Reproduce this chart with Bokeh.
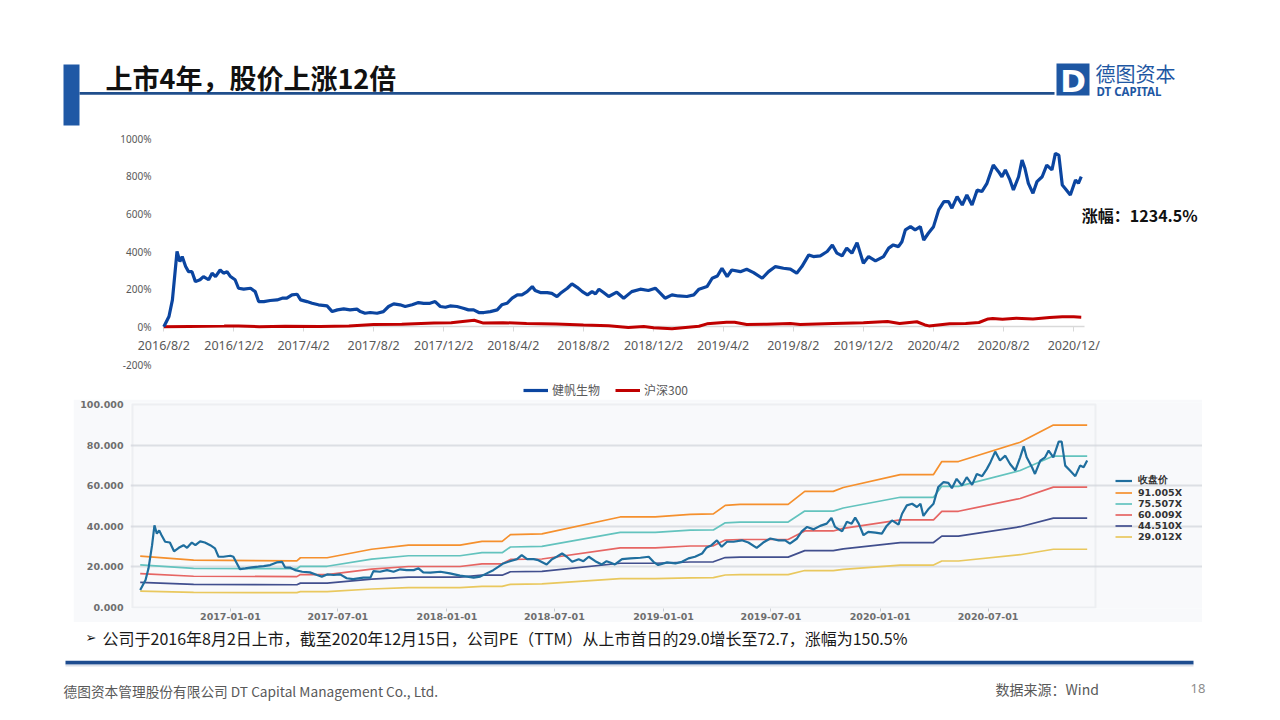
import pandas as pd
from bokeh.plotting import figure
from bokeh.layouts import column, row
from bokeh.models import (Range1d, FixedTicker, CustomJSTickFormatter, PrintfTickFormatter,
                          Legend, LegendItem, Label, Spacer, ColumnDataSource, BoxAnnotation)
from bokeh.embed import file_html
from bokeh.resources import INLINE

# ---------------- texts ----------------
title_text = "上市4年，股价上涨12倍"
logo_cn = "德图资本"
logo_en = "DT CAPITAL"
gain_label = "涨幅：1234.5%"
bullet_text = "公司于2016年8月2日上市，截至2020年12月15日，公司PE（TTM）从上市首日的29.0增长至72.7，涨幅为150.5%"
footer_company = "德图资本管理股份有限公司 DT Capital Management Co., Ltd."
footer_source = "数据来源：Wind"
page_number = "18"

# ---------------- top chart: cumulative return (%) ----------------
series_names = ["健帆生物", "沪深300"]
jf_dates = ["2016-08-02","2016-08-11","2016-08-17","2016-08-25","2016-08-30","2016-09-03","2016-09-09","2016-09-14","2016-09-20","2016-09-26",
            "2016-10-04","2016-10-10","2016-10-19","2016-10-25","2016-10-31","2016-11-08","2016-11-14","2016-11-20","2016-11-26","2016-12-04",
            "2016-12-10","2016-12-19","2016-12-31","2017-01-08","2017-01-14","2017-01-23","2017-02-03","2017-02-15","2017-02-24","2017-03-04",
            "2017-03-13","2017-03-22","2017-03-28","2017-04-08","2017-04-17","2017-04-28","2017-05-13","2017-05-22","2017-05-31","2017-06-11",
            "2017-06-22","2017-07-04","2017-07-10","2017-07-18","2017-07-27","2017-08-08","2017-08-19","2017-08-28","2017-09-06","2017-09-17",
            "2017-09-26","2017-10-08","2017-10-19","2017-10-28","2017-11-08","2017-11-17","2017-11-26","2017-12-05","2017-12-13","2017-12-25",
            "2018-01-05","2018-01-14","2018-01-23","2018-02-01","2018-02-10","2018-02-21","2018-03-05","2018-03-13","2018-03-22","2018-03-31",
            "2018-04-09","2018-04-17","2018-04-26","2018-05-05","2018-05-10","2018-05-19","2018-05-31","2018-06-08","2018-06-17","2018-06-23",
            "2018-07-05","2018-07-13","2018-07-22","2018-07-31","2018-08-09","2018-08-17","2018-08-23","2018-08-29","2018-09-06","2018-09-15",
            "2018-09-29","2018-10-11","2018-10-25","2018-11-09","2018-11-23","2018-12-05","2018-12-14","2018-12-22","2019-01-03","2019-01-14",
            "2019-01-29","2019-02-10","2019-02-19","2019-03-05","2019-03-14","2019-03-23","2019-03-31","2019-04-09","2019-04-17","2019-05-02",
            "2019-05-13","2019-05-25","2019-06-09","2019-06-20","2019-07-02","2019-07-16","2019-07-28","2019-08-08","2019-08-17","2019-08-29",
            "2019-09-06","2019-09-18","2019-09-30","2019-10-09","2019-10-17","2019-10-26","2019-11-03","2019-11-12","2019-11-21","2019-12-02",
            "2019-12-11","2019-12-23","2020-01-06","2020-01-15","2020-01-23","2020-02-01","2020-02-07","2020-02-13","2020-02-22","2020-03-01",
            "2020-03-10","2020-03-16","2020-03-24","2020-04-02","2020-04-11","2020-04-20","2020-04-28","2020-05-04","2020-05-13","2020-05-22",
            "2020-05-30","2020-06-08","2020-06-17","2020-06-25","2020-07-04","2020-07-10","2020-07-15","2020-07-24","2020-07-30","2020-08-05",
            "2020-08-13","2020-08-19","2020-08-28","2020-09-03","2020-09-08","2020-09-14","2020-09-22","2020-09-29","2020-10-08","2020-10-16",
            "2020-10-25","2020-10-31","2020-11-06","2020-11-12","2020-11-17","2020-11-26","2020-12-05","2020-12-10","2020-12-15"]
jf_return = [0, 55, 143, 400, 346, 373, 320, 293, 293, 240,
             250, 267, 250, 285, 267, 302, 285, 293, 267, 250,
             205, 200, 205, 187, 134, 134, 140, 143, 152, 152,
             170, 173, 143, 134, 125, 117, 111, 81, 90, 95,
             90, 94, 81, 72, 76, 72, 81, 108, 122, 117,
             108, 117, 129, 125, 125, 134, 108, 104, 111, 108,
             99, 90, 90, 76, 76, 81, 90, 117, 125, 152,
             170, 170, 187, 214, 193, 182, 182, 178, 161, 178,
             205, 228, 210, 187, 170, 187, 175, 200, 182, 161,
             184, 152, 187, 200, 193, 205, 178, 152, 170, 164,
             161, 170, 200, 214, 258, 270, 311, 267, 302, 293,
             306, 288, 258, 293, 320, 311, 306, 285, 320, 382,
             373, 377, 400, 435, 391, 377, 418, 391, 447, 338,
             373, 350, 373, 418, 435, 426, 452, 515, 532, 515,
             532, 461, 497, 532, 621, 665, 665, 630, 691, 647,
             700, 647, 727, 718, 762, 815, 859, 824, 797, 833,
             780, 727, 797, 886, 842, 762, 709, 771, 797, 859,
             833, 921, 912, 753, 735, 700, 780, 762, 797]

hs_dates = ["2016-08-02","2016-09-15","2016-11-15","2016-12-10","2017-01-15","2017-03-01","2017-05-01","2017-06-20","2017-08-02","2017-09-20",
            "2017-11-15","2017-12-15","2018-01-24","2018-02-09","2018-03-15","2018-04-25","2018-06-15","2018-08-02","2018-09-15","2018-10-19",
            "2018-11-15","2018-12-02","2019-01-03","2019-02-19","2019-03-05","2019-04-08","2019-04-22","2019-05-13","2019-06-17","2019-07-28",
            "2019-08-14","2019-10-10","2019-12-02","2020-01-13","2020-02-03","2020-03-04","2020-03-18","2020-03-25","2020-04-30","2020-05-28",
            "2020-06-20","2020-07-06","2020-07-14","2020-07-31","2020-08-24","2020-09-22","2020-10-21","2020-11-12","2020-12-02","2020-12-15"]
hs_return = [0, 2, 4, 5, 1, 3, 2, 5, 13, 14,
             20, 22, 35, 20, 22, 18, 15, 10, 6, -3,
             2, -5, -10, 3, 16, 25, 24, 12, 14, 18,
             12, 18, 22, 28, 18, 27, 10, 5, 17, 18,
             23, 42, 44, 40, 46, 41, 49, 54, 53, 51]

top_tick_dates = ["2016-08-02","2016-12-02","2017-04-02","2017-08-02","2017-12-02","2018-04-02","2018-08-02",
                  "2018-12-02","2019-04-02","2019-08-02","2019-12-02","2020-04-02","2020-08-02","2020-12-02"]
top_tick_labels = ["2016/8/2","2016/12/2","2017/4/2","2017/8/2","2017/12/2","2018/4/2","2018/8/2",
                   "2018/12/2","2019/4/2","2019/8/2","2019/12/2","2020/4/2","2020/8/2","2020/12/"]
top_y_ticks = [-200, 0, 200, 400, 600, 800, 1000]

# ---------------- bottom chart: price and PE bands ----------------
price_dates = ["2016-08-02","2016-08-11","2016-08-16","2016-08-22","2016-08-26","2016-08-30","2016-09-03","2016-09-07","2016-09-13","2016-09-21",
               "2016-09-28","2016-10-06","2016-10-14","2016-10-20","2016-10-28","2016-11-03","2016-11-11","2016-11-19","2016-11-28","2016-12-06",
               "2016-12-12","2016-12-20","2017-01-01","2017-01-06","2017-01-12","2017-01-17","2017-01-26","2017-02-06","2017-02-17","2017-02-26",
               "2017-03-09","2017-03-20","2017-03-29","2017-04-03","2017-04-12","2017-04-20","2017-05-02","2017-05-15","2017-05-27","2017-06-04",
               "2017-06-13","2017-06-24","2017-07-05","2017-07-16","2017-07-27","2017-08-13","2017-08-25","2017-08-30","2017-09-10","2017-09-22",
               "2017-10-03","2017-10-14","2017-10-25","2017-11-06","2017-11-14","2017-11-22","2017-12-04","2017-12-21","2018-01-06","2018-01-23",
               "2018-02-04","2018-02-15","2018-02-26","2018-03-09","2018-03-20","2018-03-29","2018-04-06","2018-04-17","2018-04-29","2018-05-07",
               "2018-05-16","2018-05-27","2018-06-04","2018-06-18","2018-06-27","2018-07-05","2018-07-14","2018-07-22","2018-07-31","2018-08-11",
               "2018-08-19","2018-08-28","2018-09-08","2018-09-19","2018-09-27","2018-10-03","2018-10-11","2018-10-23","2018-11-06","2018-11-23",
               "2018-12-07","2018-12-15","2018-12-23","2019-01-07","2019-01-21","2019-02-01","2019-02-12","2019-02-23","2019-03-07","2019-03-14",
               "2019-03-23","2019-04-01","2019-04-09","2019-04-18","2019-04-29","2019-05-13","2019-05-24","2019-06-07","2019-06-18","2019-06-30",
               "2019-07-14","2019-07-25","2019-08-02","2019-08-14","2019-08-22","2019-08-31","2019-09-11","2019-09-22","2019-10-03","2019-10-11",
               "2019-10-17","2019-10-29","2019-11-06","2019-11-14","2019-11-20","2019-11-26","2019-12-04","2019-12-12","2019-12-24","2020-01-04",
               "2020-01-12","2020-01-21","2020-02-01","2020-02-07","2020-02-15","2020-02-24","2020-03-03","2020-03-09","2020-03-14","2020-03-23",
               "2020-03-31","2020-04-08","2020-04-17","2020-04-25","2020-05-01","2020-05-09","2020-05-18","2020-05-26","2020-06-04","2020-06-12",
               "2020-06-21","2020-06-29","2020-07-05","2020-07-13","2020-07-21","2020-07-30","2020-08-07","2020-08-16","2020-08-24","2020-08-30",
               "2020-09-04","2020-09-13","2020-09-18","2020-09-27","2020-10-05","2020-10-11","2020-10-19","2020-10-28","2020-11-02","2020-11-08",
               "2020-11-16","2020-11-25","2020-12-03","2020-12-09","2020-12-15"]
close_price = [8.6, 13.5, 19.3, 30.7, 40.5, 36.4, 38.0, 35.6, 32.4, 32.0,
               27.7, 29.4, 30.7, 29.4, 32.0, 30.7, 32.6, 32.0, 30.7, 29.1,
               25.0, 25.0, 25.5, 25.0, 21.7, 18.9, 19.3, 19.8, 20.1, 20.4,
               20.9, 22.2, 22.5, 19.8, 19.6, 18.4, 17.6, 17.3, 16.0, 15.2,
               16.3, 16.0, 16.3, 14.4, 14.0, 14.7, 14.7, 17.9, 17.6, 18.4,
               17.6, 18.8, 18.4, 18.4, 19.3, 17.3, 17.2, 17.6, 16.8, 15.7,
               15.2, 14.7, 15.2, 16.8, 18.4, 20.1, 21.7, 22.8, 23.8, 25.8,
               23.8, 23.8, 23.3, 21.2, 23.8, 25.0, 26.6, 25.0, 22.5, 23.8,
               22.8, 25.0, 22.8, 21.2, 22.8, 22.2, 21.2, 23.8, 24.2, 24.5,
               25.0, 22.5, 20.9, 22.2, 21.7, 22.5, 24.2, 25.0, 26.6, 29.4,
               30.7, 33.1, 29.9, 32.4, 32.4, 33.1, 32.0, 29.4, 32.0, 34.0,
               33.1, 33.1, 31.5, 34.0, 37.5, 39.7, 38.5, 40.2, 41.3, 44.1,
               39.7, 37.5, 42.2, 41.3, 44.3, 41.3, 35.6, 37.3, 36.9, 36.4,
               40.2, 42.9, 40.8, 46.2, 50.3, 51.1, 49.5, 51.1, 45.1, 48.7,
               51.1, 59.3, 61.8, 61.4, 58.8, 63.4, 60.1, 64.2, 60.4, 65.8,
               64.7, 68.3, 71.6, 76.8, 72.4, 74.8, 70.7, 67.5, 74.0, 79.4,
               74.0, 69.1, 65.8, 72.4, 74.0, 77.3, 74.0, 81.7, 81.7, 69.9,
               67.5, 64.7, 69.9, 69.1, 72.4]

band_dates = ["2016-08-02","2016-10-31","2017-04-23","2017-04-29","2017-06-13","2017-08-27","2017-10-28","2018-01-23","2018-03-01","2018-04-04",
              "2018-04-18","2018-06-10","2018-10-20","2018-12-18","2019-02-15","2019-03-26","2019-04-15","2019-05-10","2019-07-30","2019-08-27",
              "2019-10-14","2019-10-31","2020-02-04","2020-03-31","2020-04-14","2020-05-12","2020-08-24","2020-10-19","2020-12-15"]
band_91x = [25.3, 23.3, 23.0, 24.5, 24.5, 28.7, 30.7, 30.7, 32.6, 32.6, 35.9, 36.3, 44.6, 44.6, 45.9, 46.1, 50.3, 50.8, 50.8, 57.2,
            57.2, 59.1, 65.5, 65.5, 71.9, 71.9, 81.4, 89.9, 89.9]
band_75x = [21.0, 19.3, 19.1, 20.3, 20.3, 23.8, 25.5, 25.5, 27.0, 27.0, 29.8, 30.1, 37.0, 37.0, 38.1, 38.2, 41.7, 42.1, 42.1, 47.5,
            47.5, 49.0, 54.3, 54.3, 59.7, 59.7, 67.5, 74.6, 74.6]
band_60x = [16.7, 15.4, 15.2, 16.2, 16.2, 18.9, 20.2, 20.2, 21.5, 21.5, 23.7, 23.9, 29.4, 29.4, 30.3, 30.4, 33.2, 33.5, 33.5, 37.7,
            37.7, 39.0, 43.2, 43.2, 47.4, 47.4, 53.7, 59.3, 59.3]
band_44x = [12.4, 11.4, 11.2, 12.0, 12.0, 14.0, 15.0, 15.0, 15.9, 15.9, 17.6, 17.8, 21.8, 21.8, 22.4, 22.5, 24.6, 24.8, 24.8, 28.0,
            28.0, 28.9, 32.0, 32.0, 35.2, 35.2, 39.8, 44.0, 44.0]
band_29x = [8.1, 7.4, 7.3, 7.8, 7.8, 9.1, 9.8, 9.8, 10.4, 10.4, 11.4, 11.6, 14.2, 14.2, 14.6, 14.7, 16.0, 16.2, 16.2, 18.2,
            18.2, 18.8, 20.9, 20.9, 22.9, 22.9, 26.0, 28.7, 28.7]
bottom_legend_labels = ["收盘价", "91.005X", "75.507X", "60.009X", "44.510X", "29.012X"]
bottom_tick_dates = ["2017-01-01","2017-07-01","2018-01-01","2018-07-01","2019-01-01","2019-07-01","2020-01-01","2020-07-01"]
bottom_tick_labels = ["2017-01-01","2017-07-01","2018-01-01","2018-07-01","2019-01-01","2019-07-01","2020-01-01","2020-07-01"]
bottom_y_ticks = [0, 20, 40, 60, 80, 100]

# ---------------- helpers ----------------
DAY = 86400000.0

def ms(s):
    return float((pd.Timestamp(s) - pd.Timestamp("1970-01-01")) / pd.Timedelta(milliseconds=1))

TICK_JS = """
let best = -1, bd = 43200000;
for (let i = 0; i < tvals.length; i++) { const d = Math.abs(tvals[i] - tick); if (d < bd) { bd = d; best = i; } }
return best < 0 ? "" : tlabels[best];
"""

CJK = "Noto Sans CJK SC"

def deco_fig(w, h):
    f = figure(width=w, height=h, x_range=Range1d(0, w), y_range=Range1d(h, 0),
               x_axis_location=None, y_axis_location=None, toolbar_location=None,
               output_backend="svg", min_border=0, outline_line_color=None, title=None)
    f.grid.visible = False
    return f

# ---------------- header (page y 8..128) ----------------
p0 = deco_fig(1264, 120)
p0.quad(left=[55], right=[71], top=[56], bottom=[117], fill_color="#1F58A5", line_color=None)
p0.quad(left=[71], right=[1046], top=[83.5], bottom=[86.3], fill_color="#1F4E8C", line_color=None)
p0.add_layout(Label(x=97, y=69, text=title_text, text_font=CJK, text_font_style="bold",
                    text_font_size="27px", text_color="#111111", text_baseline="middle"))
p0.quad(left=[1048], right=[1081], top=[55], bottom=[87], fill_color="#1E57A3", line_color=None)
p0.add_layout(Label(x=1064.5, y=72, text="D", text_font="DejaVu Sans", text_font_style="bold",
                    text_font_size="31px", text_color="white", text_align="center", text_baseline="middle"))
p0.add_layout(Label(x=1087, y=64.5, text=logo_cn, text_font=CJK, text_font_size="20px",
                    text_color="#1E57A3", text_baseline="middle"))
p0.add_layout(Label(x=1088, y=82.5, text=logo_en, text_font="Noto Sans", text_font_style="bold",
                    text_font_size="11.5px", text_color="#1E57A3", text_baseline="middle"))

# ---------------- top chart (page y 128..399) ----------------
dpp = 1.7396                     # days per pixel
x0 = ms("2016-08-02")
x_start = x0 - (163.3 - 8) * dpp * DAY
x_end = x0 + (1272 - 163.3) * dpp * DAY

p1 = figure(width=1264, height=271, x_axis_type="datetime", output_backend="svg", toolbar_location=None,
            x_range=Range1d(x_start, x_end), y_range=Range1d(-385.8, 1053.1), title=None,
            min_border=0, outline_line_color=None)
p1.grid.visible = False

src_jf = ColumnDataSource(dict(x=pd.to_datetime(jf_dates), y=jf_return))
src_hs = ColumnDataSource(dict(x=pd.to_datetime(hs_dates), y=hs_return))
r_hs = p1.line("x", "y", source=src_hs, line_color="#C00000", line_width=3)
r_jf = p1.line("x", "y", source=src_jf, line_color="#0B45A0", line_width=3.2)

top_tick_ms = [ms(d) for d in top_tick_dates]
xa = p1.xaxis[0]
xa.fixed_location = 0
xa.level = "underlay"
xa.bounds = (x0, ms("2020-12-21"))
xa.ticker = FixedTicker(ticks=top_tick_ms)
xa.formatter = CustomJSTickFormatter(args=dict(tvals=top_tick_ms, tlabels=top_tick_labels), code=TICK_JS)
xa.axis_line_color = "#D9D9D9"
xa.axis_line_width = 1.5
xa.major_tick_line_color = "#D9D9D9"
xa.major_tick_out = 5
xa.major_tick_in = 0
xa.minor_tick_line_color = None
xa.major_label_standoff = 5
xa.major_label_text_font = "Noto Sans"
xa.major_label_text_font_size = "12.5px"
xa.major_label_text_color = "#595959"

ya = p1.yaxis[0]
ya.fixed_location = x0 - 0.3 * dpp * DAY
ya.ticker = FixedTicker(ticks=top_y_ticks)
ya.formatter = PrintfTickFormatter(format="%d%%")
ya.axis_line_color = None
ya.major_tick_line_color = None
ya.minor_tick_line_color = None
ya.major_tick_out = 0
ya.major_tick_in = 0
ya.major_label_standoff = 12
ya.major_label_text_font = "Noto Sans"
ya.major_label_text_font_size = "10px"
ya.major_label_text_color = "#595959"

leg1 = Legend(items=[LegendItem(label=series_names[0], renderers=[r_jf]),
                     LegendItem(label=series_names[1], renderers=[r_hs])],
              orientation="horizontal", location=(515, 1), glyph_width=25, glyph_height=12,
              label_height=12, label_standoff=4, spacing=15, padding=0, margin=0,
              border_line_color=None, background_fill_alpha=0,
              label_text_font=CJK, label_text_font_size="12px", label_text_color="#595959")
p1.add_layout(leg1)

p1.add_layout(Label(x=ms("2020-12-16"), y=594, text=gain_label, text_font=CJK, text_font_style="bold",
                    text_font_size="16px", text_color="#111111", text_baseline="middle"))

# ---------------- bottom chart (page x 73..1202, y 399..622) ----------------
BG = "#F8F9FB"
bdpp = 1.6855                    # days per pixel in the pasted valuation chart
plot_left, plot_right = ms("2016-07-20"), ms("2020-12-29")
b_start = plot_left - 2 * bdpp * DAY
b_end = plot_right + (1202 - 1095) * bdpp * DAY
p2 = figure(width=1129, height=223, x_axis_type="datetime", output_backend="svg", toolbar_location=None,
            x_range=Range1d(b_start, b_end), y_range=Range1d(-0.5, 101), title=None,
            min_border_left=57, min_border_right=0, min_border_top=3, min_border_bottom=14,
            background_fill_color=BG, border_fill_color=BG, outline_line_color=None)
p2.xgrid.visible = False
p2.ygrid.ticker = FixedTicker(ticks=[20, 40, 60, 80])
p2.ygrid.bounds = (plot_left, plot_right)
p2.ygrid.grid_line_color = "#DCDFE4"
p2.ygrid.grid_line_width = 2
p2.add_layout(BoxAnnotation(left=plot_left, right=plot_right, bottom=0, top=100, fill_alpha=0,
                            line_color="#D5D8DD", line_width=2, level="underlay"))

src_b = ColumnDataSource(dict(x=pd.to_datetime(band_dates), b91=band_91x, b75=band_75x, b60=band_60x,
                              b44=band_44x, b29=band_29x))
src_p = ColumnDataSource(dict(x=pd.to_datetime(price_dates), y=close_price))
band_cols = ["b91", "b75", "b60", "b44", "b29"]
band_colors = ["#F5902D", "#63C3BE", "#E66563", "#414F8E", "#E9C85E"]
band_rs = [p2.line("x", c, source=src_b, line_color=col, line_width=1.7) for c, col in zip(band_cols, band_colors)]
r_price = p2.line("x", "y", source=src_p, line_color="#1F6E9E", line_width=2.2)

bottom_tick_ms = [ms(d) for d in bottom_tick_dates]
xb = p2.xaxis[0]
xb.ticker = FixedTicker(ticks=bottom_tick_ms)
xb.formatter = CustomJSTickFormatter(args=dict(tvals=bottom_tick_ms, tlabels=bottom_tick_labels), code=TICK_JS)
xb.axis_line_color = None
xb.major_tick_line_color = "#C8CCD2"
xb.major_tick_out = 3
xb.major_tick_in = 0
xb.minor_tick_line_color = None
xb.major_label_standoff = 1
xb.major_label_text_font = "DejaVu Sans"
xb.major_label_text_font_style = "bold"
xb.major_label_text_font_size = "9.5px"
xb.major_label_text_color = "#6E6E6E"

yb = p2.yaxis[0]
yb.ticker = FixedTicker(ticks=bottom_y_ticks)
yb.formatter = PrintfTickFormatter(format="%.3f")
yb.axis_line_color = None
yb.major_tick_line_color = None
yb.minor_tick_line_color = None
yb.major_tick_out = 0
yb.major_tick_in = 0
yb.major_label_standoff = 7
yb.major_label_text_font = "DejaVu Sans"
yb.major_label_text_font_style = "bold"
yb.major_label_text_font_size = "9.5px"
yb.major_label_text_color = "#6E6E6E"

leg2 = Legend(items=[LegendItem(label=lab, renderers=[r]) for lab, r in zip(bottom_legend_labels, [r_price] + band_rs)],
              orientation="vertical", location=(985, 66), glyph_width=17, glyph_height=9,
              label_height=9, label_standoff=6, spacing=-5, padding=0, margin=0,
              border_line_color=None, background_fill_alpha=0,
              label_text_font="DejaVu Sans", label_text_font_style="bold",
              label_text_font_size="9.5px", label_text_color="#333333")
p2.add_layout(leg2)

bottom_row = row(Spacer(width=65, height=223), p2, Spacer(width=70, height=223))

# ---------------- footer (page y 622..712) ----------------
p3 = deco_fig(1264, 90)
p3.add_layout(Label(x=77, y=15, text="➢", text_font="DejaVu Sans", text_font_size="13px",
                    text_color="#111111", text_baseline="middle"))
p3.add_layout(Label(x=94, y=15, text=bullet_text, text_font=CJK, text_font_size="16px",
                    text_color="#1A1A1A", text_baseline="middle"))
p3.quad(left=[57], right=[1185], top=[38.3], bottom=[42], fill_color="#1D4C8F", line_color=None)
p3.quad(left=[57], right=[1185], top=[42], bottom=[44], fill_color="#B8C2D3", fill_alpha=0.5, line_color=None)
p3.add_layout(Label(x=55, y=68, text=footer_company, text_font=CJK, text_font_size="13.7px",
                    text_color="#595959", text_baseline="middle"))
p3.add_layout(Label(x=987, y=66, text=footer_source, text_font=CJK, text_font_size="14px",
                    text_color="#595959", text_baseline="middle"))
p3.add_layout(Label(x=1182, y=66, text=page_number, text_font="Noto Sans", text_font_size="13px",
                    text_color="#8C8C8C", text_baseline="middle"))

inner = column(p0, p1, bottom_row, p3)
layout = column(Spacer(width=1272, height=8), row(Spacer(width=8, height=704), inner))
open("out.html", "w").write(file_html(layout, INLINE))
